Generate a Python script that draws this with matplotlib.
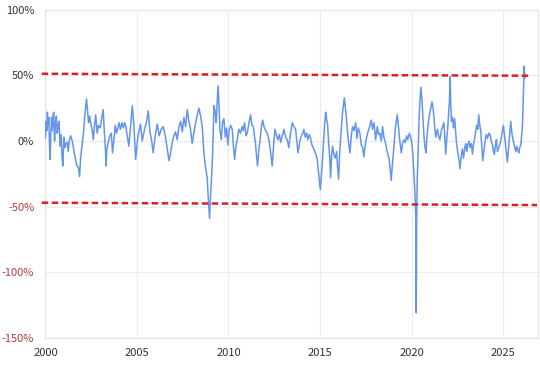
import matplotlib
matplotlib.use('Agg')
import matplotlib.pyplot as plt

# values (year, % deviation)
years = [
    2000.00, 2000.04, 2000.08, 2000.11, 2000.15, 2000.19, 2000.22, 2000.26, 2000.30, 2000.34,
    2000.38, 2000.42, 2000.46, 2000.50, 2000.55, 2000.60, 2000.65, 2000.70, 2000.75, 2000.80,
    2000.86, 2000.92, 2000.96, 2001.01, 2001.06, 2001.12, 2001.19, 2001.25, 2001.30, 2001.38,
    2001.45, 2001.52, 2001.58, 2001.65, 2001.72, 2001.80, 2001.87, 2001.92, 2001.98, 2002.04,
    2002.10, 2002.17, 2002.25, 2002.30, 2002.36, 2002.42, 2002.47, 2002.55, 2002.62, 2002.68,
    2002.75, 2002.83, 2002.90, 2003.00, 2003.08, 2003.16, 2003.20, 2003.25, 2003.28, 2003.31,
    2003.36, 2003.45, 2003.52, 2003.60, 2003.67, 2003.74, 2003.82, 2003.88, 2003.95, 2004.02,
    2004.10, 2004.18, 2004.26, 2004.33, 2004.40,
    2004.44, 2004.56, 2004.65, 2004.75, 2004.84, 2004.93, 2005.06, 2005.20, 2005.29, 2005.42,
    2005.53, 2005.62, 2005.71, 2005.80, 2005.89, 2006.00, 2006.11, 2006.22, 2006.33, 2006.44,
    2006.55, 2006.66, 2006.75, 2006.84, 2006.93, 2007.02, 2007.11, 2007.20, 2007.30, 2007.39,
    2007.48, 2007.57, 2007.66, 2007.75, 2007.84, 2007.93, 2008.02, 2008.11, 2008.21, 2008.30,
    2008.39, 2008.48, 2008.57, 2008.66,
    2008.75, 2008.84, 2008.90, 2008.93, 2008.97, 2009.01, 2009.06, 2009.13, 2009.21, 2009.28,
    2009.33, 2009.43, 2009.48, 2009.53, 2009.61, 2009.68, 2009.75, 2009.83, 2009.90, 2009.97,
    2010.04, 2010.12, 2010.21, 2010.26, 2010.34, 2010.41, 2010.48, 2010.57, 2010.66, 2010.75,
    2010.81, 2010.88, 2010.96, 2011.03, 2011.12, 2011.21, 2011.28, 2011.36, 2011.43, 2011.48,
    2011.54, 2011.59, 2011.67, 2011.72, 2011.79, 2011.87, 2011.94, 2012.03, 2012.12, 2012.21,
    2012.30, 2012.39, 2012.47, 2012.54, 2012.63, 2012.70, 2012.78, 2012.85, 2012.94, 2013.03,
    2013.12, 2013.21, 2013.30, 2013.39, 2013.49, 2013.58, 2013.67, 2013.80, 2013.89, 2013.98,
    2014.07, 2014.12, 2014.20, 2014.27, 2014.34, 2014.41, 2014.49, 2014.56, 2014.63, 2014.71,
    2014.78, 2014.85, 2014.91, 2014.96, 2015.02, 2015.07, 2015.12, 2015.18, 2015.25, 2015.31,
    2015.36, 2015.42, 2015.47, 2015.53, 2015.58, 2015.63, 2015.69, 2015.76, 2015.83, 2015.91,
    2015.96, 2016.02, 2016.07, 2016.14, 2016.22, 2016.27, 2016.33, 2016.38, 2016.44, 2016.51,
    2016.58, 2016.64, 2016.71, 2016.78, 2016.86, 2016.95, 2017.02, 2017.09, 2017.18, 2017.26,
    2017.33, 2017.40, 2017.47, 2017.55, 2017.62, 2017.69, 2017.80, 2017.87, 2017.95, 2018.04,
    2018.13, 2018.20, 2018.27, 2018.35, 2018.42, 2018.49, 2018.57, 2018.64, 2018.71, 2018.78,
    2018.84, 2018.89, 2018.97, 2019.04, 2019.11, 2019.17, 2019.22, 2019.28, 2019.33, 2019.39,
    2019.44, 2019.51, 2019.59, 2019.66, 2019.73, 2019.80, 2019.88, 2019.95, 2020.02, 2020.08,
    2020.13, 2020.17, 2020.21, 2020.24, 2020.26, 2020.28, 2020.31, 2020.35, 2020.41, 2020.46,
    2020.51, 2020.57, 2020.62, 2020.68, 2020.73, 2020.79, 2020.84, 2020.90, 2020.97, 2021.04,
    2021.12, 2021.17, 2021.23, 2021.28, 2021.33, 2021.41, 2021.48, 2021.55, 2021.63, 2021.70,
    2021.77, 2021.87, 2021.93, 2021.98, 2022.03, 2022.07, 2022.11, 2022.14, 2022.18, 2022.24,
    2022.29, 2022.36, 2022.42, 2022.47, 2022.54, 2022.60, 2022.65, 2022.71, 2022.78, 2022.84,
    2022.91, 2022.96, 2023.02, 2023.07, 2023.15, 2023.20, 2023.27, 2023.33, 2023.38, 2023.46,
    2023.51, 2023.56, 2023.62, 2023.67, 2023.73, 2023.78, 2023.84, 2023.89, 2023.95, 2024.00,
    2024.08, 2024.15, 2024.22, 2024.29, 2024.37, 2024.42, 2024.48, 2024.53, 2024.59, 2024.64,
    2024.69, 2024.77, 2024.84, 2024.91, 2024.97, 2025.02, 2025.08, 2025.13, 2025.19, 2025.24,
    2025.30, 2025.35, 2025.42, 2025.48, 2025.53, 2025.59, 2025.64, 2025.70, 2025.75, 2025.81,
    2025.86, 2025.91, 2025.97, 2026.02, 2026.06, 2026.10, 2026.13, 2026.15, 2026.19,
]
values = [
    2, 15, 8, 22, 12, 18, 0, -14, 5, 18,
    8, 20, 22, 0, 12, 19, 6, 12, 15, -4,
    5, -14, -19, 3, -5, -2, -1, -8, 0, 4,
    1, -4, -9, -14, -19, -20, -27, -14, -6, 1,
    9, 22, 32, 24, 14, 19, 14, 9, 1, 11,
    20, 6, 12, 10, 18, 24, 12, 1, -6, -19,
    -6, 0, 4, 6, -9, 1, 12, 6, 9, 14,
    9, 14, 10, 14, 11,
    7, -4, 11, 27, 11, -14, 4, 13, 0, 9,
    15, 23, 7, 1, -9, 4, 13, 4, 9, 11,
    4, -6, -15, -9, -1, 4, 7, 1, 11, 15,
    7, 18, 11, 24, 15, 9, -2, 6, 14, 20,
    25, 19, 11, -9,
    -20, -28, -44, -50, -59, -45, -33, -12, 27, 22,
    14, 42, 30, 9, 1, 15, 17, 3, 10, -3,
    8, 12, 9, -2, -14, -4, 1, 9, 6, 11,
    8, 14, 4, 6, 14, 20, 12, 11, 3, -2,
    -12, -19, -5, -1, 10, 16, 11, 8, 6, 1,
    -8, -19, -3, 9, 4, 1, 5, -1, 4, 9,
    3, 1, -5, 6, 14, 11, 9, -9, -1, 4,
    6, 9, 3, 6, 1, 5, 2, -3, -5, -8,
    -10, -14, -22, -28, -37, -28, -18, -4, 12, 22,
    17, 12, -1, -12, -28, -12, -4, -10, -13, -8,
    -20, -29, -10, 4, 20, 26, 33, 26, 18, 6,
    -3, -9, 4, 11, 8, 14, 2, 10, 6, -3,
    -5, -12, -3, 3, 7, 10, 16, 9, 14, 1,
    11, 5, 6, 0, 11, 3, -1, -6, -10, -14,
    -22, -30, -15, -4, 9, 15, 20, 12, 4, -3,
    -9, -2, 1, -1, 4, 1, 6, 3, -2, -12,
    -25, -35, -48, -60, -131, -62, -30, -14, 16, 30,
    41, 32, 18, 4, -4, -9, 2, 12, 19, 24,
    30, 26, 18, 8, 3, 9, 4, 1, 8, 11,
    14, -10, 3, 10, 22, 30, 49, 30, 15, 18,
    10, 17, 5, -3, -10, -15, -21, -12, -6, -13,
    -5, -2, -8, -3, 0, -5, -2, -10, -3, 3,
    8, 12, 9, 20, 12, 8, -5, -15, -8, -2,
    5, 2, 6, 5, -1, -3, -8, -10, -2, 1,
    -8, -5, -2, 3, 8, 12, 4, -2, -10, -16,
    -6, 3, 15, 6, 2, -2, -5, -8, -4, -7,
    -9, -5, -3, 5, 12, 30, 45, 57, 48,
]

# the two red reference lines (start/end points)
upper_x = [1999.8, 2026.47]
upper_y = [51.3, 49.8]
lower_x = [1999.8, 2026.86]
lower_y = [-47.0, -48.8]

yticks = [-150, -100, -50, 0, 50, 100]
xticks = [2000, 2005, 2010, 2015, 2020, 2025]

plt.rcParams['font.family'] = ['Noto Sans CJK JP', 'DejaVu Sans']

fig = plt.figure(figsize=(5.4, 3.66), dpi=100)
ax = fig.add_axes([0.084, 0.077, 0.912, 0.896])

ax.plot(years, values, color='#6495ed', linewidth=1.1, zorder=3)
ax.plot(upper_x, upper_y, color='#d42424', linewidth=1.8, dashes=(2.6, 1.4),
        clip_on=False, zorder=4)
ax.plot(lower_x, lower_y, color='#d42424', linewidth=1.8, dashes=(2.6, 1.4),
        clip_on=False, zorder=4)

ax.set_xlim(2000, 2026.9)
ax.set_ylim(-150, 100)
ax.set_xticks(xticks)
ax.set_xticklabels([str(t) for t in xticks])
ax.set_yticks(yticks)
ax.set_yticklabels([f"{t}%" for t in yticks])
for lab, t in zip(ax.get_yticklabels(), yticks):
    lab.set_color('#b23a3a' if t < 0 else '#333333')
for lab in ax.get_xticklabels():
    lab.set_color('#333333')

ax.tick_params(axis='both', length=0, labelsize=8)
ax.tick_params(axis='y', pad=8)
ax.tick_params(axis='x', pad=7)
ax.grid(color='#ececec', linewidth=0.8)
ax.set_axisbelow(True)
for s in ax.spines.values():
    s.set_color('#e4e4e4')
    s.set_linewidth(0.8)

fig.savefig('out.png', facecolor='white')
